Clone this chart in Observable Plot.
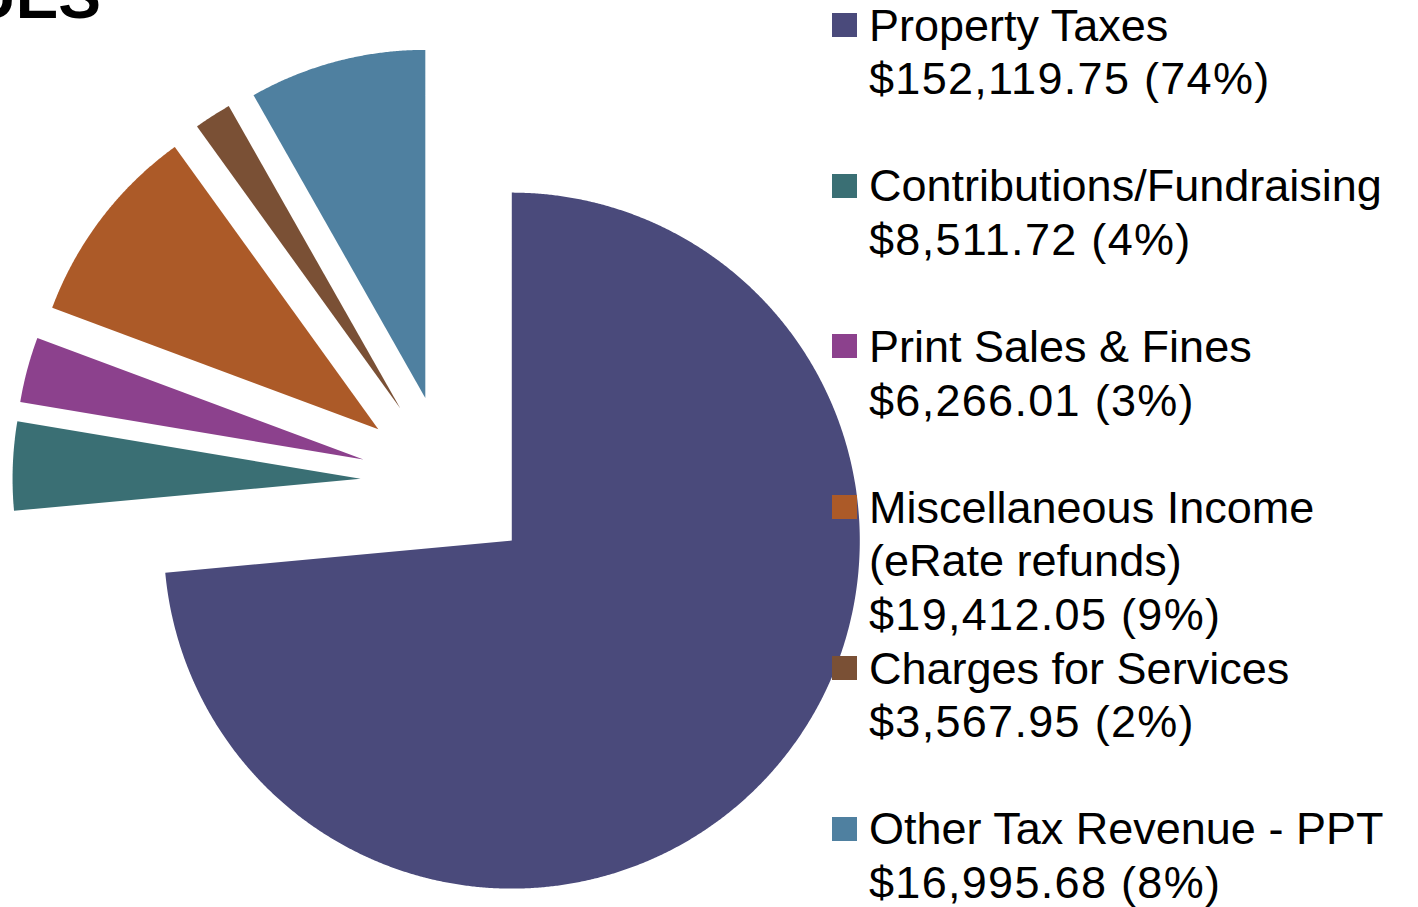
<!DOCTYPE html>
<html>
<head>
<meta charset="utf-8">
<script src="https://cdn.jsdelivr.net/npm/d3@7"></script>
<script src="https://cdn.jsdelivr.net/npm/@observablehq/plot@0.6"></script>
<style>
  html, body { margin: 0; padding: 0; background: #fff; overflow: hidden; }
  #wrap { position: relative; width: 1418px; height: 907px; overflow: hidden; font-family: "Liberation Sans", Arial, sans-serif; }
  #title { position: absolute; right: 1317px; top: -36px; font-size: 64px; line-height: 64px; font-weight: bold; color: #000; white-space: nowrap; }
  .entry { position: absolute; left: 832px; font-size: 45px; line-height: 53.6px; color: #000; white-space: pre; }
  .swatch { position: absolute; left: 0; width: 25px; height: 24px; }
  .txt { position: absolute; left: 37px; top: 0; }
  .val { letter-spacing: 1.3px; }
</style>
</head>
<body>
<div id="wrap">
  <div id="title">REVENUES</div>
</div>
<script>
// ---- data ----
const categories = ["Property Taxes", "Contributions/Fundraising", "Print Sales & Fines", "Miscellaneous Income (eRate refunds)", "Charges for Services", "Other Tax Revenue - PPT"];
const legendLines = [["Property Taxes"], ["Contributions/Fundraising"], ["Print Sales & Fines"], ["Miscellaneous Income", "(eRate refunds)"], ["Charges for Services"], ["Other Tax Revenue - PPT"]];
const amounts = [152119.75, 8511.72, 6266.01, 19412.05, 3567.95, 16995.68];
const colors = ["#4a4a7b", "#3a6f74", "#8c418d", "#ac5a28", "#7a5035", "#4f80a0"];

// ---- layout ----
const W = 1418, H = 907;
const cx = 447, cy = 481.5, R = 348;   // pie centre and radius in pixels
const explode = 0.25;                  // every slice pulled out by 25% of radius

const total = d3.sum(amounts);
const pie = d3.pie().sort(null).value(d => d.amount);
const table = categories.map((name, i) => ({name, amount: amounts[i]}));
const arcs = pie(table);

const points = [];
for (const a of arcs) {
  const mid = (a.startAngle + a.endAngle) / 2;
  const ox = explode * Math.sin(mid), oy = explode * Math.cos(mid);
  points.push({name: a.data.name, x: ox, y: oy});
  const n = Math.max(2, Math.ceil((a.endAngle - a.startAngle) / (Math.PI / 720)));
  for (let k = 0; k <= n; k++) {
    const t = a.startAngle + (a.endAngle - a.startAngle) * k / n;
    points.push({name: a.data.name, x: ox + Math.sin(t), y: oy + Math.cos(t)});
  }
}

const chart = Plot.plot({
  width: W, height: H, margin: 0,
  x: {domain: [-cx / R, (W - cx) / R], axis: null},
  y: {domain: [-(H - cy) / R, cy / R], axis: null},
  color: {domain: categories, range: colors},
  marks: [
    Plot.line(points, {x: "x", y: "y", z: "name", fill: "name", stroke: "none", curve: "linear"})
  ]
});
chart.style.position = "absolute";
chart.style.left = "0px";
chart.style.top = "0px";
const wrap = document.getElementById("wrap");
wrap.insertBefore(chart, wrap.firstChild);

// ---- legend ----
const fmtMoney = d3.format("$,.2f");
const fmtPct = d3.format(".0%");
const step = 160.75, firstBaseline = 41, baselineOffset = 42.4;
categories.forEach((name, i) => {
  const base = firstBaseline + i * step;
  const e = document.createElement("div");
  e.className = "entry";
  e.style.top = (base - baselineOffset) + "px";
  const sw = document.createElement("div");
  sw.className = "swatch";
  sw.style.background = colors[i];
  sw.style.top = (baselineOffset - 28) + "px";
  e.appendChild(sw);
  const t = document.createElement("div");
  t.className = "txt";
  for (const line of legendLines[i]) {
    const l = document.createElement("div");
    l.textContent = line;
    t.appendChild(l);
  }
  const v = document.createElement("div");
  v.className = "val";
  v.textContent = fmtMoney(amounts[i]) + " (" + fmtPct(amounts[i] / total) + ")";
  t.appendChild(v);
  e.appendChild(t);
  wrap.appendChild(e);
});
</script>
</body>
</html>
